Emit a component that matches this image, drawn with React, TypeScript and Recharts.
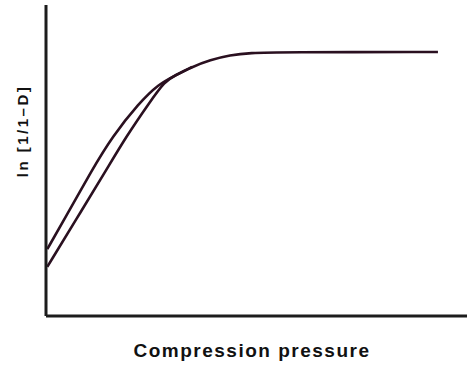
import { LineChart, Line, XAxis, YAxis, Label } from 'recharts';

// compression pressure (arbitrary units, 0-100) vs ln[1/(1-D)] (arbitrary units, 0-100)
const upperX = [0.3, 4.3, 10.9, 15.7, 22.1, 26.8, 30.6, 34.7, 39.0, 43.7, 48.5, 55.6, 93.1];
const upperY = [21.5, 30.9, 46.9, 57.6, 68.5, 74.6, 77.3, 80.1, 82.3, 83.9, 84.6, 84.8, 84.9];

const lowerX = [0.3, 7.1, 14.3, 19.0, 24.5, 28.3, 30.6, 34.7];
const lowerY = [15.8, 30.9, 46.9, 57.6, 68.5, 75.6, 77.3, 80.1];

const X_LABEL = 'Compression pressure';
const Y_LABEL = 'ln [1/1\u2013D]';

const upper = upperX.map((x, i) => ({ x, y: upperY[i] }));
const lower = lowerX.map((x, i) => ({ x, y: lowerY[i] }));

const INK = '#2a1020';
const AXIS = '#1c1c1c';
const FONT = '"Liberation Sans", Arial, sans-serif';

export default function App() {
  return (
    <div style={styles.page}>
      <LineChart width={467} height={370} margin={{ top: 5, right: 0, left: 0, bottom: 0 }}>
        <XAxis
          type="number"
          dataKey="x"
          domain={[0, 100]}
          height={54}
          tick={false}
          tickLine={false}
          stroke={AXIS}
          strokeWidth={3}
          allowDataOverflow
        >
          <Label
            content={() => (
              <text
                x={252}
                y={357}
                textAnchor="middle"
                style={{ fontFamily: FONT, fontSize: 19, fontWeight: 700, letterSpacing: 1.5, fill: '#111' }}
              >
                {X_LABEL}
              </text>
            )}
          />
        </XAxis>
        <YAxis
          type="number"
          dataKey="y"
          domain={[0, 100]}
          width={46}
          tick={false}
          tickLine={false}
          stroke={AXIS}
          strokeWidth={3}
          allowDataOverflow
        >
          <Label
            content={() => (
              <text
                x={22}
                y={131}
                transform="rotate(-90 22 131)"
                textAnchor="middle"
                dominantBaseline="central"
                style={{ fontFamily: FONT, fontSize: 15, fontWeight: 700, letterSpacing: 2.5, fill: '#111' }}
              >
                {Y_LABEL}
              </text>
            )}
          />
        </YAxis>
        <Line
          data={upper}
          dataKey="y"
          type="basis"
          stroke={INK}
          strokeWidth={2.6}
          dot={false}
          isAnimationActive={false}
        />
        <Line
          data={lower}
          dataKey="y"
          type="basis"
          stroke={INK}
          strokeWidth={2.6}
          dot={false}
          isAnimationActive={false}
        />
      </LineChart>
    </div>
  );
}

const styles: Record<string, React.CSSProperties> = {
  page: {
    position: 'absolute',
    left: 0,
    top: 0,
    width: 467,
    height: 370,
    background: '#fff',
  },
};
